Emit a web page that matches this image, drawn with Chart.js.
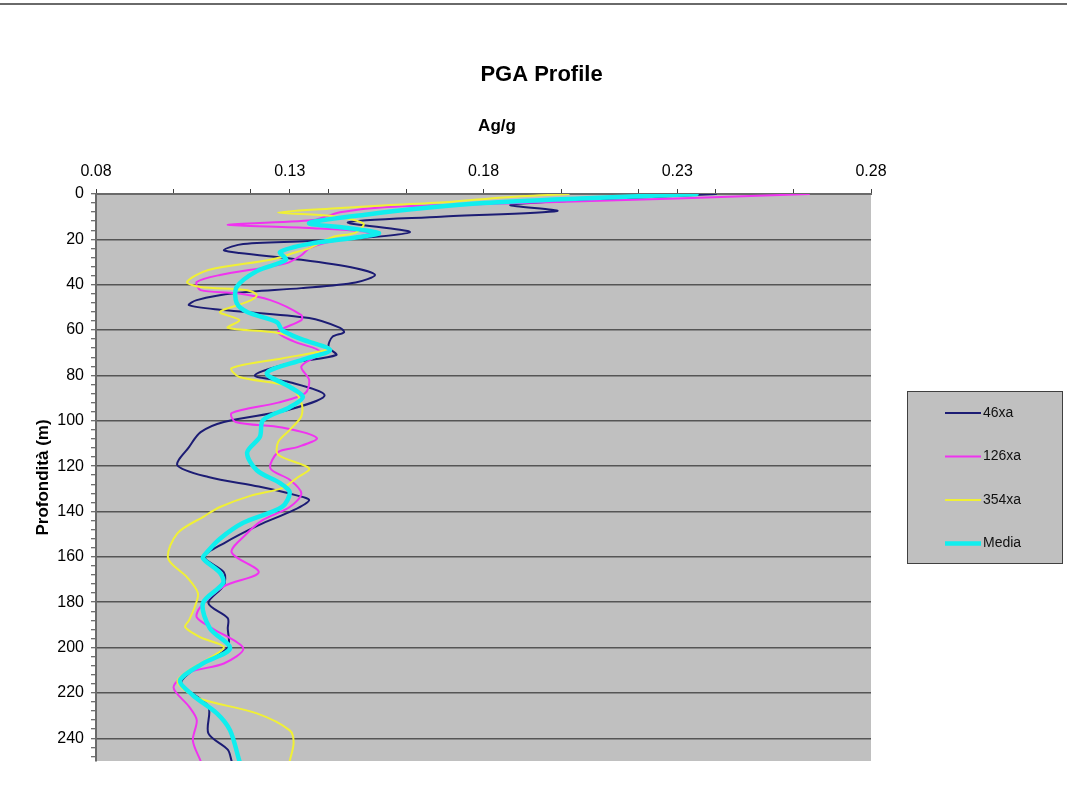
<!DOCTYPE html>
<html><head><meta charset="utf-8">
<script src="https://cdn.jsdelivr.net/npm/chart.js@4/dist/chart.umd.min.js"></script>
<style>html,body{margin:0;padding:0;background:#fff;}#wrap{width:1067px;height:800px;position:relative;}</style>
</head><body><div id="wrap"><canvas id="c"></canvas></div>
<script>
// ---------- data ----------
const CHART_TITLE = 'PGA Profile';
const X_AXIS_TITLE = 'Ag/g';
const Y_AXIS_TITLE = 'Profondità (m)';
const SERIES_NAMES = ['46xa', '126xa', '354xa', 'Media'];
const X_TICK_LABELS = ['0.08', '0.13', '0.18', '0.23', '0.28'];
const Y_TICK_LABELS = ['0','20','40','60','80','100','120','140','160','180','200','220','240'];

const DEPTH_46XA = [0, 2, 4.8, 7.5, 10, 12.5, 16.8, 20.3, 22, 24.7, 26, 29, 32.7, 35.7, 39, 41.5, 43.7, 46.8, 49, 51, 54.7, 59, 61, 63, 67.5, 71, 74.6, 80, 83, 88.7, 95, 100.5, 105, 111.6, 119.6, 124.8, 129, 133, 135, 139.4, 146, 154, 160, 166.8, 172.5, 180.4, 187, 191.5, 200, 208.7, 215.8, 226, 237.8, 245, 250];
const PGA_46XA   = [0.240, 0.215, 0.187, 0.199, 0.169, 0.145, 0.161, 0.141, 0.118, 0.113, 0.117, 0.133, 0.147, 0.152, 0.147, 0.133, 0.116, 0.106, 0.104, 0.112, 0.135, 0.143, 0.144, 0.141, 0.140, 0.142, 0.130, 0.121, 0.130, 0.139, 0.130, 0.113, 0.107, 0.104, 0.101, 0.109, 0.122, 0.132, 0.135, 0.131, 0.122, 0.113, 0.108, 0.113, 0.113, 0.109, 0.114, 0.114, 0.114, 0.106, 0.102, 0.109, 0.109, 0.114, 0.115];

const DEPTH_126XA = [0, 2, 4, 5.7, 8, 11.5, 13.5, 15, 17, 19, 21.6, 24, 27, 30.6, 35.7, 38.8, 42.4, 43.7, 46.8, 53.4, 55.6, 60.9, 65, 69.7, 76, 82, 87.8, 92, 96.6, 100.5, 103, 107.6, 111.6, 113.8, 121, 126, 132, 138, 143.8, 149.6, 158, 166.8, 173, 182, 186.6, 191.5, 200.3, 207, 211, 217.5, 226, 232, 241, 250];
const PGA_126XA   = [0.264, 0.230, 0.190, 0.155, 0.143, 0.136, 0.114, 0.135, 0.151, 0.147, 0.139, 0.135, 0.133, 0.129, 0.112, 0.106, 0.107, 0.116, 0.125, 0.133, 0.133, 0.127, 0.131, 0.138, 0.133, 0.135, 0.134, 0.127, 0.115, 0.116, 0.128, 0.137, 0.132, 0.127, 0.125, 0.130, 0.133, 0.130, 0.123, 0.119, 0.115, 0.122, 0.113, 0.107, 0.106, 0.110, 0.118, 0.113, 0.104, 0.100, 0.104, 0.106, 0.105, 0.107];

const DEPTH_354XA = [0, 1.5, 3.4, 5, 6.5, 8.2, 9.5, 13, 17, 19, 24, 25.5, 29, 33.5, 38.8, 41, 42.4, 44.6, 47.6, 52, 55.6, 59, 61.3, 67.5, 69, 72.5, 76.8, 80.7, 85, 92, 98, 104, 109.4, 115, 121, 125, 129.7, 133, 138, 142, 149.6, 160.6, 169, 176, 182, 188, 191, 195.5, 199.8, 205, 210, 215, 222, 229, 236.5, 242, 250];
const PGA_354XA   = [0.202, 0.185, 0.172, 0.155, 0.140, 0.127, 0.140, 0.149, 0.147, 0.141, 0.135, 0.132, 0.125, 0.109, 0.1035, 0.107, 0.119, 0.1215, 0.119, 0.112, 0.117, 0.114, 0.127, 0.140, 0.139, 0.128, 0.115, 0.117, 0.130, 0.133, 0.133, 0.130, 0.127, 0.127, 0.135, 0.132, 0.128, 0.120, 0.112, 0.108, 0.101, 0.0986, 0.1035, 0.1063, 0.1055, 0.104, 0.103, 0.107, 0.113, 0.109, 0.104, 0.101, 0.106, 0.1215, 0.130, 0.131, 0.130];

const DEPTH_MEDIA = [0, 2, 4, 6, 9, 12.8, 15, 17.2, 19, 22, 25.6, 29, 34, 41, 48, 52, 56.5, 60, 64, 68.8, 73, 79, 85, 89.5, 94, 99.7, 107, 114, 121.8, 127.5, 131.5, 138, 145, 152, 158, 160.6, 167, 171.6, 180.4, 191.5, 200.3, 207, 214.4, 221, 229, 236.5, 250];
const PGA_MEDIA   = [0.235, 0.205, 0.180, 0.166, 0.150, 0.135, 0.145, 0.153, 0.148, 0.135, 0.1275, 0.129, 0.1215, 0.1163, 0.1163, 0.119, 0.1267, 0.128, 0.133, 0.1404, 0.1334, 0.1241, 0.130, 0.1334, 0.130, 0.1231, 0.1223, 0.119, 0.1215, 0.1275, 0.130, 0.128, 0.118, 0.112, 0.1086, 0.1076, 0.112, 0.1128, 0.1076, 0.1094, 0.1146, 0.1076, 0.1017, 0.105, 0.1112, 0.1146, 0.117];

// ---------- build ----------
const FONT = 'Liberation Sans, Arial, sans-serif';
const pts = (d, v) => d.map((y, i) => ({ x: v[i], y: y }));
const COLORS = ['#1c1c74', '#f033f0', '#f0f035', '#10eeee'];
const WIDTHS = [2, 2, 2, 4.5];
const ORDERS = [3, 2, 1, 0];
const SERIES = [[DEPTH_46XA, PGA_46XA], [DEPTH_126XA, PGA_126XA], [DEPTH_354XA, PGA_354XA], [DEPTH_MEDIA, PGA_MEDIA]];

const xMajor = X_TICK_LABELS.map(Number);
const xMin = xMajor[0], xMax = xMajor[xMajor.length - 1];
const yMajor = Y_TICK_LABELS.map(Number);
const isMajor = (arr, v) => arr.some(m => Math.abs(m - v) < 1e-9);

const bgPlugin = {
  id: 'bg',
  beforeDraw(chart) {
    const { ctx, chartArea: a } = chart;
    ctx.save();
    ctx.fillStyle = '#c0c0c0';
    ctx.fillRect(a.left, a.top, a.right - a.left, a.bottom - a.top);
    ctx.strokeStyle = '#6a6a6a';
    ctx.lineWidth = 2;
    ctx.beginPath(); ctx.moveTo(0, 4); ctx.lineTo(chart.width, 4); ctx.stroke();
    ctx.restore();
  }
};

const titlesPlugin = {
  id: 'titles',
  afterDraw(chart) {
    const { ctx } = chart;
    ctx.save();
    ctx.fillStyle = '#000';
    ctx.textAlign = 'center';
    ctx.textBaseline = 'middle';
    ctx.font = 'bold 22px ' + FONT;
    ctx.fillText(CHART_TITLE, chart.width / 2 + 8, 75);
    ctx.font = 'bold 17px ' + FONT;
    ctx.fillText(X_AXIS_TITLE, 497, 126);
    ctx.restore();
  }
};

const legendPlugin = {
  id: 'boxLegend',
  afterDraw(chart) {
    const { ctx, chartArea: a } = chart;
    const bx = a.right + 36, by = 391, bw = 156, bh = 173;
    ctx.save();
    ctx.fillStyle = '#c0c0c0';
    ctx.fillRect(bx, by, bw, bh);
    ctx.strokeStyle = '#404040';
    ctx.lineWidth = 1;
    ctx.strokeRect(bx + 0.5, by + 0.5, bw - 1, bh - 1);
    chart.data.datasets.forEach((ds, i) => {
      const y = by + 22 + i * 43.5;
      ctx.strokeStyle = ds.borderColor;
      ctx.lineWidth = ds.borderWidth;
      ctx.beginPath(); ctx.moveTo(bx + 38, y); ctx.lineTo(bx + 74, y); ctx.stroke();
      ctx.fillStyle = '#111';
      ctx.font = '14px ' + FONT;
      ctx.textBaseline = 'middle';
      ctx.textAlign = 'left';
      ctx.fillText(ds.label, bx + 76, y);
    });
    ctx.restore();
  }
};

new Chart(document.getElementById('c'), {
  type: 'scatter',
  data: {
    datasets: SERIES.map((s, i) => ({
      label: SERIES_NAMES[i],
      data: pts(s[0], s[1]),
      showLine: true,
      borderColor: COLORS[i],
      backgroundColor: COLORS[i],
      borderWidth: WIDTHS[i],
      pointRadius: 0,
      tension: 0.3,
      borderJoinStyle: 'round',
      borderCapStyle: 'round',
      order: ORDERS[i]
    }))
  },
  options: {
    responsive: true,
    maintainAspectRatio: false,
    animation: false,
    layout: { padding: { left: 0, right: 196, top: 0, bottom: 39 } },
    plugins: {
      legend: { display: false },
      tooltip: { enabled: false },
      title: { display: false }
    },
    scales: {
      x: {
        type: 'linear', position: 'top', min: xMin, max: xMax,
        afterBuildTicks(scale) {
          const t = [];
          for (let i = 0; xMin + i * 0.02 <= xMax + 1e-9; i++) t.push(+(xMin + i * 0.02).toFixed(4));
          xMajor.forEach(m => { if (!isMajor(t, m)) t.push(m); });
          t.sort((a, b) => a - b);
          scale.ticks = t.map(v => ({ value: v }));
        },
        afterFit(scale) { scale.height = 194; },
        ticks: {
          autoSkip: false, maxRotation: 0, padding: 8, color: '#000',
          font: { family: FONT, size: 16 },
          callback(v) { const k = xMajor.findIndex(m => Math.abs(m - v) < 1e-9); return k >= 0 ? X_TICK_LABELS[k] : ''; }
        },
        grid: { drawOnChartArea: false, drawTicks: true, tickLength: 5, tickColor: '#404040', tickWidth: 1 },
        border: { display: true, color: '#6a6a6a', width: 2 },
        title: { display: false }
      },
      y: {
        type: 'linear', position: 'left', reverse: true, min: 0, max: 250,
        afterBuildTicks(scale) {
          const t = [];
          for (let v = 0; v <= 248; v += 4) t.push(v);
          yMajor.forEach(m => { if (!t.includes(m)) t.push(m); });
          t.sort((a, b) => a - b);
          scale.ticks = t.map(v => ({ value: v }));
        },
        afterFit(scale) { scale.width = 96; },
        ticks: {
          autoSkip: false, padding: 7, color: '#000',
          font: { family: FONT, size: 16 },
          callback(v) { const k = yMajor.indexOf(v); return k >= 0 ? Y_TICK_LABELS[k] : ''; }
        },
        grid: {
          drawOnChartArea: true, drawTicks: true, tickLength: 5,
          color: (c) => (c.tick && yMajor.includes(c.tick.value) && c.tick.value !== 0) ? '#555555' : 'rgba(0,0,0,0)',
          lineWidth: 1.5,
          tickColor: '#404040', tickWidth: 1
        },
        border: { display: true, color: '#6a6a6a', width: 2 },
        title: { display: true, text: Y_AXIS_TITLE, color: '#000', font: { family: FONT, size: 17, weight: 'bold', lineHeight: 1.2 }, padding: { top: 33, bottom: 0 } }
      }
    }
  },
  plugins: [bgPlugin, titlesPlugin, legendPlugin]
});
</script>
</body></html>
